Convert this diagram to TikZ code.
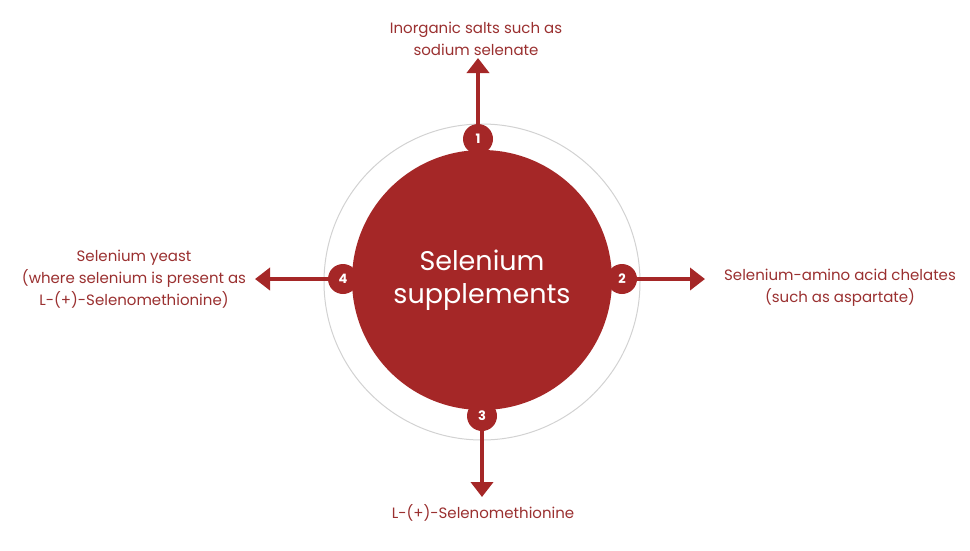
\documentclass[tikz,border=0pt]{standalone}
\usepackage{fontspec}
\setmainfont{Poppins}
\usetikzlibrary{arrows.meta}
\definecolor{sered}{HTML}{A52727}
\definecolor{setext}{HTML}{9A3030}
\tikzset{
  badge/.style={circle,fill=sered,text=white,minimum size=30pt,inner sep=0pt,font=\fontsize{13}{14}\selectfont\bfseries},
  arr/.style={draw=sered,line width=4.5pt,-{Triangle[length=15pt,width=22pt]}},
  lbl/.style={text=setext,align=center,font=\fontsize{15}{22}\selectfont}
}
\begin{document}
\begin{tikzpicture}[x=1pt,y=-1pt]
\useasboundingbox (0,0) rectangle (970,550);
\draw[gray!35,line width=1pt] (482,282) circle (158);
\node[circle,fill=sered,minimum size=260pt,inner sep=0pt,text=white,align=center,font=\fontsize{27}{33}\selectfont] (c) at (482,280) {Selenium\\supplements};
\node[badge] (b1) at (478,139) {1};
\node[badge] (b2) at (622,279) {2};
\node[badge] (b3) at (482,416) {3};
\node[badge] (b4) at (343,279) {4};
\coordinate (e1) at (478,58);
\coordinate (e2) at (705,279);
\coordinate (e3) at (482,497);
\coordinate (e4) at (255,279);
\draw[arr] (b1) -- (e1);
\draw[arr] (b2) -- (e2);
\draw[arr] (b3) -- (e3);
\draw[arr] (b4) -- (e4);
\node[lbl] (t1) at (476,39) {Inorganic salts such as\\sodium selenate};
\node[lbl] (t2) at (840,288) {Selenium-amino acid chelates\\(such as aspartate)};
\node[lbl] (t3) at (483,513) {L-(+)-Selenomethionine};
\node[lbl] (t4) at (134,279) {Selenium yeast\\(where selenium is present as\\L-(+)-Selenomethionine)};
\end{tikzpicture}
\end{document}
